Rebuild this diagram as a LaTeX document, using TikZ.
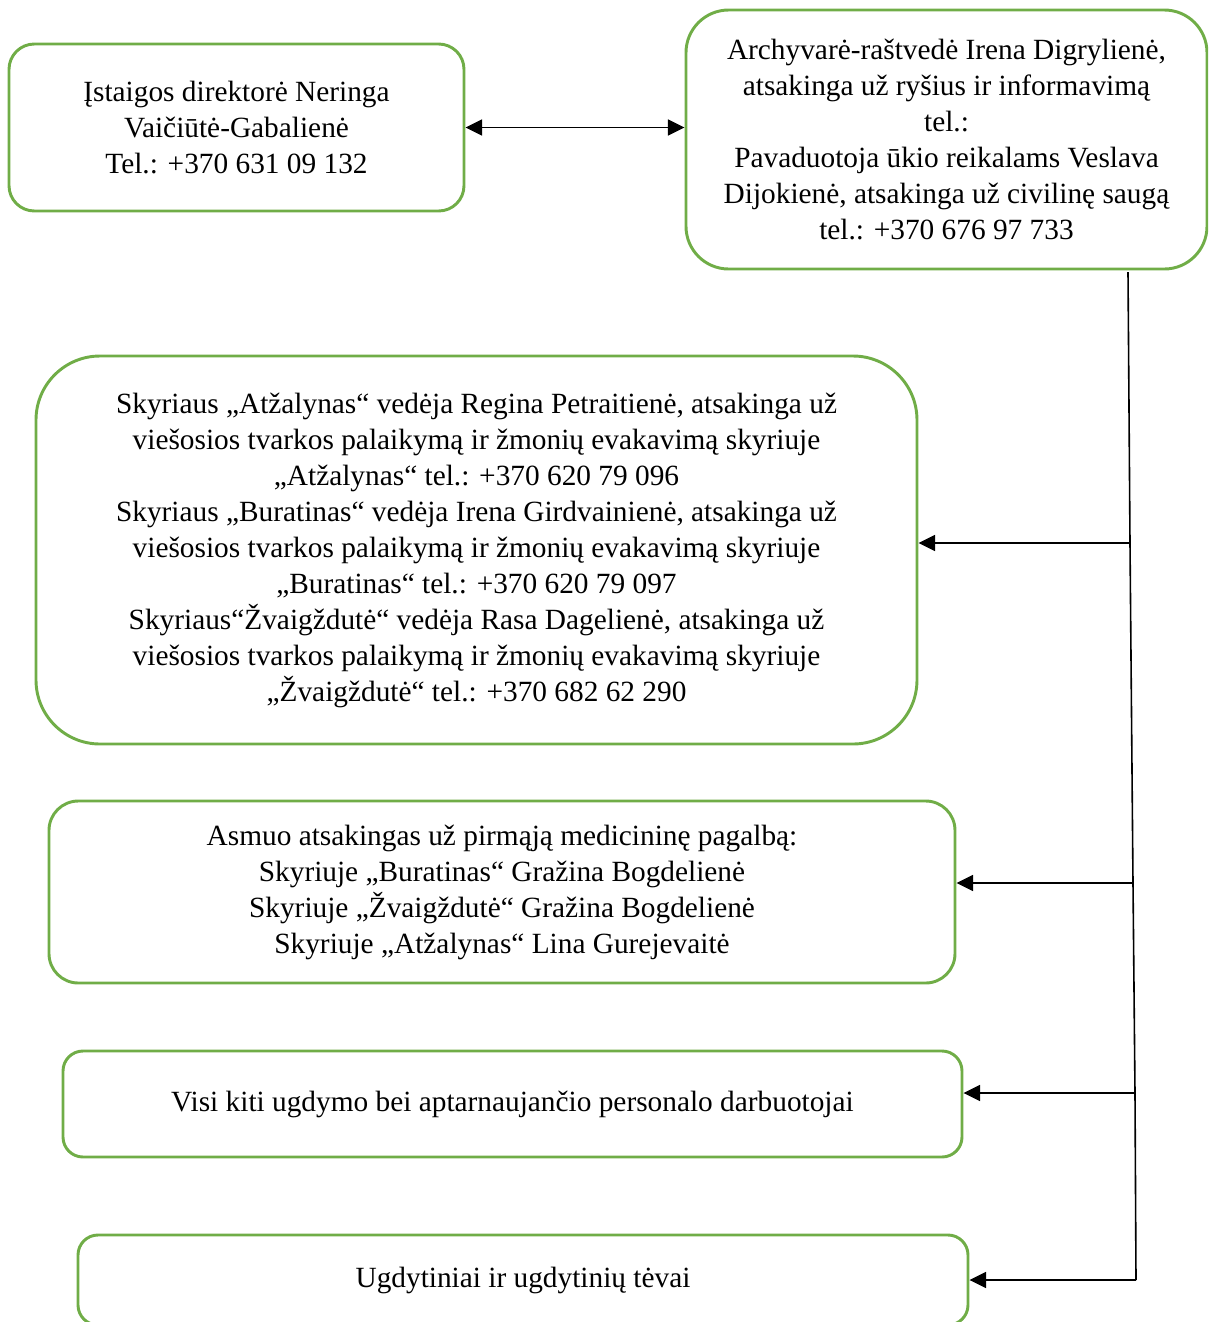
\documentclass[tikz,border=0pt]{standalone}
\usepackage{fontspec}
\setmainfont{Liberation Serif}
\usetikzlibrary{arrows.meta}
\definecolor{boxgreen}{HTML}{70AD47}
\begin{document}
\begin{tikzpicture}[x=0.75pt,y=-0.75pt,
  box/.style={draw=boxgreen,line width=2.2pt,align=center,inner sep=0pt,
    font=\fontsize{22pt}{27pt}\selectfont},
  conn/.style={line width=1.2pt,draw=black},
  tip/.style={-{Triangle[length=12.5pt,width=12pt]}}]
\useasboundingbox (0,0) rectangle (1208,1322);
\clip (0,0) rectangle (1208,1322);
\node[box,rounded corners=19pt,minimum width=341.25pt,minimum height=125.25pt] (d) at (236.5,127.5)
 {Įstaigos direktorė Neringa\\Vaičiūtė-Gabalienė\\Tel.: +370 631 09 132};
\node[box,rounded corners=32pt,minimum width=390.75pt,minimum height=194.25pt] (a) at (946.5,139.5)
 {Archyvarė-raštvedė Irena Digrylienė,\\atsakinga už ryšius ir informavimą\\tel.:\\Pavaduotoja ūkio reikalams Veslava\\Dijokienė, atsakinga už civilinę saugą\\tel.: +370 676 97 733};
\node[box,rounded corners=48pt,minimum width=660.75pt,minimum height=291pt] (s) at (476.5,550)
 {Skyriaus „Atžalynas“ vedėja Regina Petraitienė, atsakinga už\\viešosios tvarkos palaikymą ir žmonių evakavimą skyriuje\\„Atžalynas“ tel.: +370 620 79 096\\Skyriaus „Buratinas“ vedėja Irena Girdvainienė, atsakinga už\\viešosios tvarkos palaikymą ir žmonių evakavimą skyriuje\\„Buratinas“ tel.: +370 620 79 097\\Skyriaus“Žvaigždutė“ vedėja Rasa Dagelienė, atsakinga už\\viešosios tvarkos palaikymą ir žmonių evakavimą skyriuje\\„Žvaigždutė“ tel.: +370 682 62 290};
\node[box,rounded corners=22pt,minimum width=679.5pt,minimum height=136.5pt] (m) at (502,892)
 {Asmuo atsakingas už pirmąją medicininę pagalbą:\\Skyriuje „Buratinas“ Gražina Bogdelienė\\Skyriuje „Žvaigždutė“ Gražina Bogdelienė\\Skyriuje „Atžalynas“ Lina Gurejevaitė};
\node[box,rounded corners=15pt,minimum width=674.25pt,minimum height=79.5pt] (v) at (512.5,1104)
 {Visi kiti ugdymo bei aptarnaujančio personalo darbuotojai};
\node[box,rounded corners=15pt,minimum width=667.5pt,minimum height=67.5pt] (u) at (523,1280)
 {Ugdytiniai ir ugdytinių tėvai};
\coordinate (top) at (1128,272);
\coordinate (b1) at (1130,543);
\coordinate (b2) at (1133,883);
\coordinate (b3) at (1135,1093);
\coordinate (b4) at (1136,1280);
\draw[conn,{Triangle[length=12.5pt,width=12pt]}-{Triangle[length=12.5pt,width=12pt]}] (d.east) -- (d.east -| a.west);
\draw[conn] (top) -- (b1) -- (b2) -- (b3) -- (b4);
\draw[conn,tip] (b1) -- (b1 -| s.east);
\draw[conn,tip] (b2) -- (b2 -| m.east);
\draw[conn,tip] (b3) -- (b3 -| v.east);
\draw[conn,tip] (b4) -- (b4 -| u.east);
\end{tikzpicture}
\end{document}
